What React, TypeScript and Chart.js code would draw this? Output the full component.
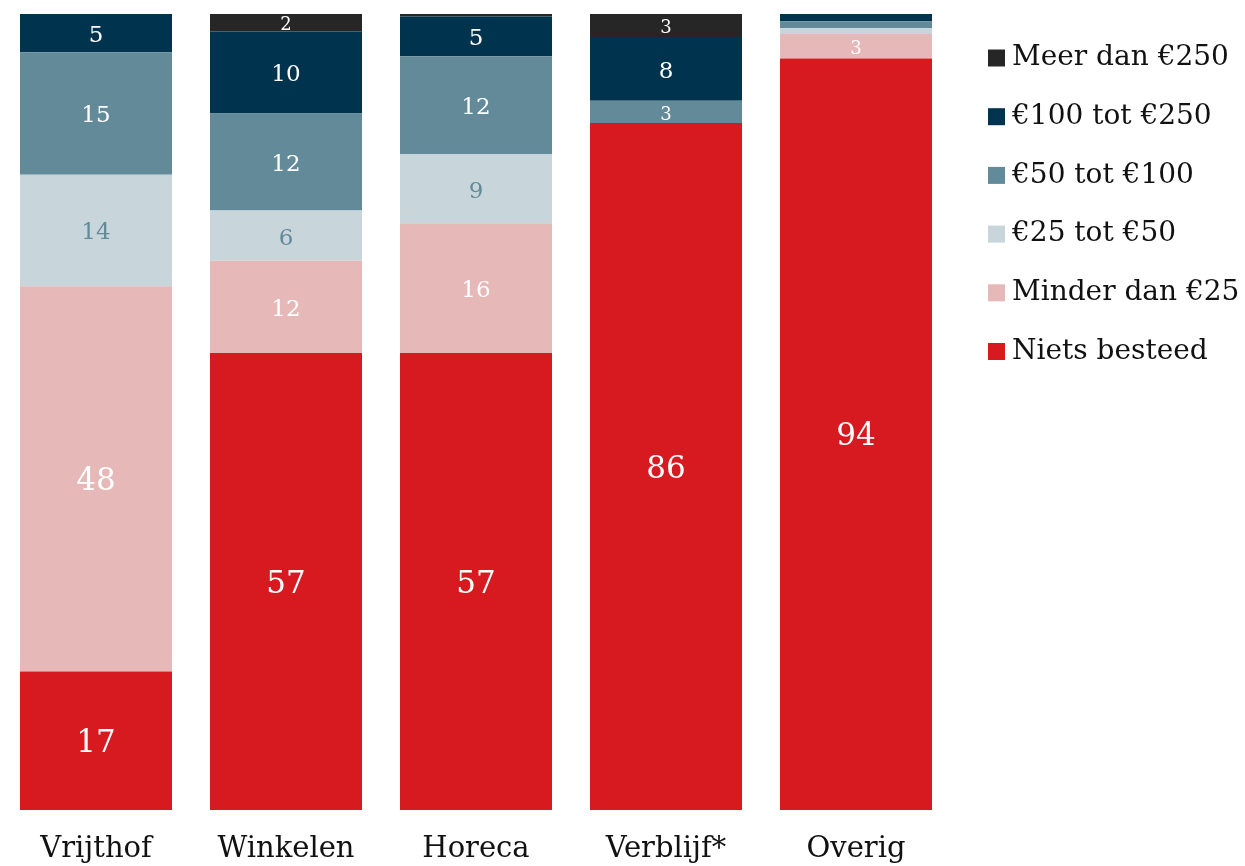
import React, { useEffect, useRef } from "react";
import { Chart, registerables } from "chart.js";

Chart.register(...registerables);

const categories = ["Vrijthof", "Winkelen", "Horeca", "Verblijf*", "Overig"];

const seriesNames = [
  "Niets besteed",
  "Minder dan €25",
  "€25 tot €50",
  "€50 tot €100",
  "€100 tot €250",
  "Meer dan €250",
];

const nietsBesteed = [17.4, 57.4, 57.4, 86.3, 94.4];
const minderDan25 = [48.4, 11.6, 16.3, 0, 3.1];
const van25tot50 = [14.0, 6.3, 8.7, 0, 0.7];
const van50tot100 = [15.4, 12.2, 12.3, 2.8, 0.9];
const van100tot250 = [4.8, 10.3, 5.0, 8.0, 0.9];
const meerDan250 = [0, 2.2, 0.3, 2.9, 0];

const seriesValues = [nietsBesteed, minderDan25, van25tot50, van50tot100, van100tot250, meerDan250];

const seriesColors = ["#d71920", "#e6b8b7", "#c8d6dc", "#638a99", "#00334d", "#262626"];
const labelColors = ["#ffffff", "#ffffff", "#638a99", "#ffffff", "#ffffff", "#ffffff"];

const FONT = "'DejaVu Serif', Georgia, serif";

const valueLabelPlugin = {
  id: "valueLabels",
  afterDatasetsDraw(chart: any) {
    const ctx = chart.ctx;
    ctx.save();
    ctx.textAlign = "center";
    ctx.textBaseline = "middle";
    chart.data.datasets.forEach((ds: any, di: number) => {
      const meta = chart.getDatasetMeta(di);
      meta.data.forEach((el: any, i: number) => {
        const v = ds.data[i];
        const r = Math.round(v);
        if (r < 2) return;
        const size = r >= 17 ? 31 : r >= 4 ? 23 : 18;
        ctx.font = `${size}px ${FONT}`;
        ctx.fillStyle = labelColors[di];
        const y = (el.y + el.base) / 2 + 3;
        ctx.fillText(String(r), el.x, y);
      });
    });
    ctx.restore();
  },
};

const legendPlugin = {
  id: "customLegend",
  afterDraw(chart: any) {
    const ctx = chart.ctx;
    ctx.save();
    ctx.textAlign = "left";
    ctx.textBaseline = "middle";
    ctx.font = `28px ${FONT}`;
    const n = chart.data.datasets.length;
    for (let k = 0; k < n; k++) {
      const di = n - 1 - k;
      const ds = chart.data.datasets[di];
      const cy = 58 + k * 58.7;
      ctx.fillStyle = ds.backgroundColor;
      ctx.fillRect(988, cy - 8.5, 17, 17);
      ctx.fillStyle = "#111111";
      ctx.fillText(ds.label, 1012, cy);
    }
    ctx.restore();
  },
};

export default function App() {
  const ref = useRef<HTMLCanvasElement | null>(null);

  useEffect(() => {
    document.body.style.margin = "0";
    if (!ref.current) return;
    const chart = new Chart(ref.current, {
      type: "bar",
      data: {
        labels: categories,
        datasets: seriesNames.map((name, i) => ({
          label: name,
          data: seriesValues[i],
          backgroundColor: seriesColors[i],
          borderWidth: 0,
          barPercentage: 0.8,
          categoryPercentage: 1.0,
        })),
      },
      options: {
        responsive: false,
        animation: false,
        layout: { padding: { left: 1, right: 294, top: 14, bottom: 1 } },
        plugins: {
          legend: { display: false },
          tooltip: { enabled: false },
        },
        scales: {
          x: {
            stacked: true,
            grid: { display: false, drawTicks: false },
            border: { display: false },
            afterFit: (scale: any) => {
              scale.height = 55;
            },
            ticks: {
              padding: 22,
              color: "#111111",
              font: { family: FONT, size: 29 },
            },
          },
          y: {
            stacked: true,
            display: false,
            min: 0,
            max: 100,
          },
        },
      },
      plugins: [valueLabelPlugin, legendPlugin],
    });
    return () => chart.destroy();
  }, []);

  return (
    <div style={{ position: "absolute", left: 0, top: 0, width: 1245, height: 866, background: "#ffffff" }}>
      <canvas ref={ref} width={1245} height={866} style={{ display: "block" }} />
    </div>
  );
}
